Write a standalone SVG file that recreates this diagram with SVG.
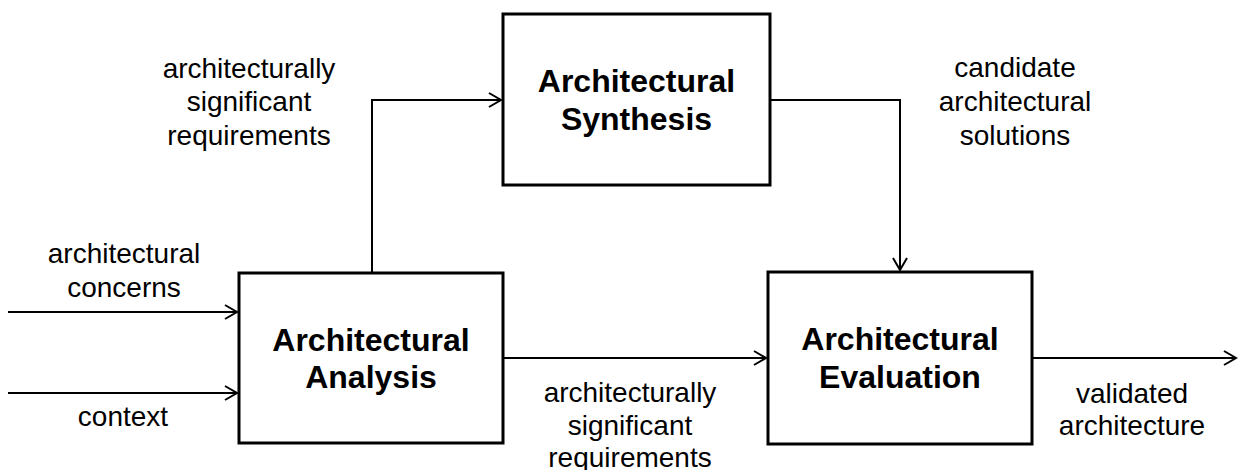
<svg xmlns="http://www.w3.org/2000/svg" width="1238" height="470" viewBox="0 0 1238 470">
<style>
.box{fill:#fff;stroke:#000;stroke-width:3}
.title{font-family:"Liberation Sans",Arial,sans-serif;font-weight:bold;font-size:32px;text-anchor:middle;fill:#000}
.lbl{font-family:"Liberation Sans",Arial,sans-serif;font-size:28px;text-anchor:middle;fill:#000}
.conn{fill:none;stroke:#000;stroke-width:2}
</style>
<defs>
<marker id="arr" markerUnits="userSpaceOnUse" markerWidth="16" markerHeight="16" viewBox="-14 -8 16 16" refX="0" refY="0" orient="auto">
<path d="M-12,-7 L0,0 L-12,7" fill="none" stroke="#000" stroke-width="2"/>
</marker>
</defs>
<rect width="1238" height="470" fill="#fff"/>
<g id="connectors">
<path class="conn" d="M372,273 V100 H501" marker-end="url(#arr)"/>
<path class="conn" d="M770,100 H900 V270" marker-end="url(#arr)"/>
<path class="conn" d="M8,312 H237" marker-end="url(#arr)"/>
<path class="conn" d="M8,393 H237" marker-end="url(#arr)"/>
<path class="conn" d="M503,358 H766" marker-end="url(#arr)"/>
<path class="conn" d="M1032,358 H1236" marker-end="url(#arr)"/>
</g>
<g id="synthesis">
<rect class="box" x="503" y="14" width="267" height="171"/>
<text class="title" x="636.5" y="92">Architectural</text>
<text class="title" x="636.5" y="130">Synthesis</text>
</g>
<g id="analysis">
<rect class="box" x="239" y="273" width="264" height="170"/>
<text class="title" x="371" y="351">Architectural</text>
<text class="title" x="371" y="388">Analysis</text>
</g>
<g id="evaluation">
<rect class="box" x="768" y="272" width="264" height="172"/>
<text class="title" x="900" y="350">Architectural</text>
<text class="title" x="900" y="388">Evaluation</text>
</g>
<g id="labels">
<text class="lbl" x="249" y="78">architecturally</text>
<text class="lbl" x="249" y="111">significant</text>
<text class="lbl" x="249" y="145">requirements</text>
<text class="lbl" x="1015" y="77">candidate</text>
<text class="lbl" x="1015" y="111">architectural</text>
<text class="lbl" x="1015" y="145">solutions</text>
<text class="lbl" x="124" y="263">architectural</text>
<text class="lbl" x="124" y="297">concerns</text>
<text class="lbl" x="123" y="426">context</text>
<text class="lbl" x="630" y="402">architecturally</text>
<text class="lbl" x="630" y="435">significant</text>
<text class="lbl" x="630" y="467">requirements</text>
<text class="lbl" x="1132" y="403">validated</text>
<text class="lbl" x="1132" y="435">architecture</text>
</g>
</svg>
